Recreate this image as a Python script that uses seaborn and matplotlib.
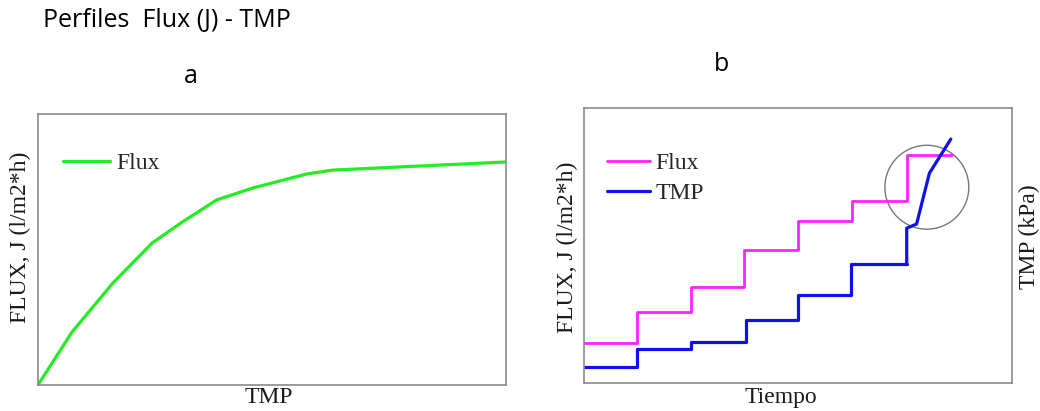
import matplotlib
matplotlib.use("Agg")
import matplotlib.pyplot as plt
from matplotlib.patches import Ellipse
import pandas as pd
import seaborn as sns

# Panel a: flux vs TMP (arbitrary units)
tmp_a = [0.0, 0.73, 1.60, 2.44, 3.08, 3.82, 4.59, 5.75, 6.30, 10.0]
flux_a = [0.0, 1.96, 3.76, 5.24, 6.01, 6.83, 7.27, 7.79, 7.93, 8.23]

# Panel b: flux steps and TMP response over time
t_flux = [0.0, 1.25, 2.50, 3.74, 5.00, 6.27, 7.54, 8.59]
flux_b = [1.47, 2.59, 3.48, 4.84, 5.90, 6.61, 8.30, 8.30]
t_tmp = [0.0, 1.23, 2.50, 3.78, 5.00, 6.24, 7.54]
tmp_b = [0.59, 1.23, 1.50, 2.29, 3.20, 4.33, 4.33]
t_ramp = [7.54, 7.54, 7.77, 8.07, 8.57]
tmp_ramp = [4.33, 5.63, 5.78, 7.63, 8.87]
circle_xy = (8.01, 7.12)
circle_w, circle_h = 1.96, 3.05

sns.set_theme(style="white")
plt.rcParams["font.family"] = ["Liberation Serif", "DejaVu Serif"]

fig = plt.figure(figsize=(10.4, 4.11), dpi=100)
ax_a = fig.add_axes([0.0365, 0.0633, 0.45, 0.6593])
ax_b = fig.add_axes([0.5615, 0.0681, 0.4116, 0.6691])

df_a = pd.DataFrame({"TMP": tmp_a, "Flux": flux_a})
sns.lineplot(data=df_a, x="TMP", y="Flux", ax=ax_a, color="#22ee22",
             linewidth=2.3, label="Flux")
ax_a.set_xlim(0, 10)
ax_a.set_ylim(0, 10)

df_flux = pd.DataFrame({"t": t_flux, "v": flux_b})
df_tmp = pd.DataFrame({"t": t_tmp, "v": tmp_b})
df_ramp = pd.DataFrame({"t": t_ramp, "v": tmp_ramp})
sns.lineplot(data=df_flux, x="t", y="v", ax=ax_b, color="#ff22ff",
             linewidth=2.0, drawstyle="steps-post", label="Flux")
sns.lineplot(data=df_tmp, x="t", y="v", ax=ax_b, color="#1010ee",
             linewidth=2.3, drawstyle="steps-post", label="TMP")
sns.lineplot(data=df_ramp, x="t", y="v", ax=ax_b, color="#1010ee",
             linewidth=2.3, sort=False, estimator=None)
ax_b.add_patch(Ellipse(circle_xy, circle_w, circle_h, fill=False,
                       edgecolor="#777777", linewidth=1.0))
ax_b.set_xlim(0, 10)
ax_b.set_ylim(0, 10)

for ax in (ax_a, ax_b):
    ax.set_xticks([])
    ax.set_yticks([])
    ax.set_xlabel("")
    ax.set_ylabel("")
    for sp in ax.spines.values():
        sp.set_color("#8a8a8a")
        sp.set_linewidth(1.2)

ax_a.legend(loc="center left", bbox_to_anchor=(0.053, 0.819), frameon=False,
            fontsize=17, borderpad=0, borderaxespad=0, handlelength=2.0,
            handletextpad=0.25)
ax_b.legend(loc="center left", bbox_to_anchor=(0.054, 0.745), frameon=False,
            fontsize=17, borderpad=0, borderaxespad=0, handlelength=1.8,
            handletextpad=0.25, labelspacing=0.35)

serif = dict(fontsize=17, color="#1a1a1a", ha="center", va="center")
fig.text(0.0192, 0.423, "FLUX, J (l/m2*h)", rotation=90, **serif)
fig.text(0.258, 0.034, "TMP", **serif)
fig.text(0.546, 0.398, "FLUX, J (l/m2*h)", rotation=90, **serif)
fig.text(0.751, 0.034, "Tiempo", **serif)
fig.text(0.990, 0.425, "TMP (kPa)", rotation=90, **serif)

sans = ["Open Sans", "DejaVu Sans"]
fig.text(0.041, 0.951, "Perfiles  Flux (J) - TMP", family=sans, fontsize=18,
         ha="left", va="center", color="black")
fig.text(0.183, 0.813, "a", family=sans, fontsize=18, ha="center",
         va="center", color="black")
fig.text(0.694, 0.842, "b", family=sans, fontsize=18, ha="center",
         va="center", color="black")

fig.savefig("out.png", dpi=100)
